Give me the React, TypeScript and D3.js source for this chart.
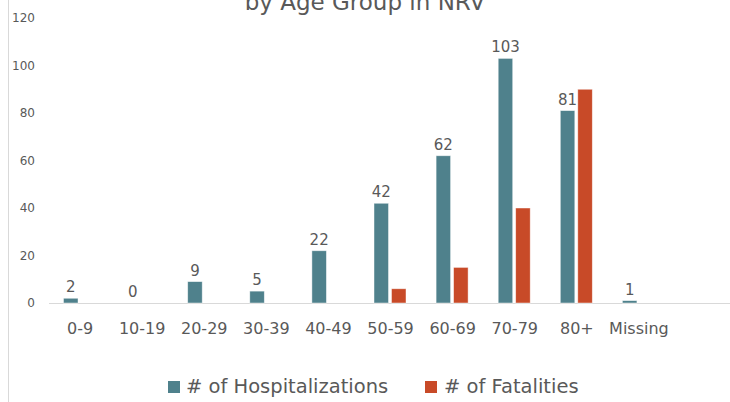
import React from "react";
import * as d3 from "d3";

const categories = ["0-9", "10-19", "20-29", "30-39", "40-49", "50-59", "60-69", "70-79", "80+", "Missing"];
const hospitalizations = [2, 0, 9, 5, 22, 42, 62, 103, 81, 1];
const fatalities = [0, 0, 0, 0, 0, 6, 15, 40, 90, 0];
const yTicks = [0, 20, 40, 60, 80, 100, 120];
const seriesNames = ["# of Hospitalizations", "# of Fatalities"];
const titleLine = "by Age Group in NRV";

const W = 730;
const H = 402;
const TEAL = "#4F818C";
const RED = "#C84A28";
const TXT = "#595959";
const GRID = "#D9D9D9";
const FONT = "'DejaVu Sans', sans-serif";

export default function App() {
  const y = d3.scaleLinear().domain([0, 120]).range([303, 18]);
  const x = d3.scaleBand<string>().domain(categories).range([49, 49 + 10 * 62.1]).padding(0);
  const x1 = d3.scaleBand<string>().domain(["h", "f"]).range([14.5, 46.5]).paddingInner(0.17);

  return (
    <svg width={W} height={H} style={{ position: "absolute", left: 0, top: 0, background: "#fff" }} fontFamily={FONT}>
      <rect x={0} y={0} width={W} height={H} fill="#fff" />
      <line x1={8.5} x2={8.5} y1={0} y2={H} stroke={GRID} strokeWidth={1} />
      <text x={365} y={10} textAnchor="middle" fontSize={23} fill={TXT}>{titleLine}</text>
      {yTicks.map((t) => (
        <text key={t} x={35} y={y(t)} dy="0.35em" textAnchor="end" fontSize={12} fill={TXT}>{t}</text>
      ))}
      <line x1={49} x2={W} y1={y(0) + 0.5} y2={y(0) + 0.5} stroke={GRID} strokeWidth={1} />
      {categories.map((c, i) => {
        const x0 = x(c)!;
        const hv = hospitalizations[i];
        const fv = fatalities[i];
        return (
          <g key={c}>
            {hv > 0 && (
              <rect x={x0 + x1("h")!} y={y(hv)} width={x1.bandwidth()} height={y(0) - y(hv)} fill={TEAL} stroke="#fff" strokeOpacity={0.6} strokeWidth={0.75} />
            )}
            {fv > 0 && (
              <rect x={x0 + x1("f")!} y={y(fv)} width={x1.bandwidth()} height={y(0) - y(fv)} fill={RED} stroke="#fff" strokeOpacity={0.6} strokeWidth={0.75} />
            )}
            <text x={x0 + x1("h")! + x1.bandwidth() / 2} y={y(hv) - 6} textAnchor="middle" fontSize={15} fill={TXT}>{hv}</text>
            <text x={x0 + x.bandwidth() / 2} y={334} textAnchor="middle" fontSize={16} fill={TXT}>{c}</text>
          </g>
        );
      })}
      <rect x={168} y={381} width={12} height={12} fill={TEAL} />
      <text x={186} y={393} fontSize={19.5} fill={TXT}>{seriesNames[0]}</text>
      <rect x={425} y={381} width={12} height={12} fill={RED} />
      <text x={444} y={393} fontSize={19.5} fill={TXT}>{seriesNames[1]}</text>
    </svg>
  );
}
